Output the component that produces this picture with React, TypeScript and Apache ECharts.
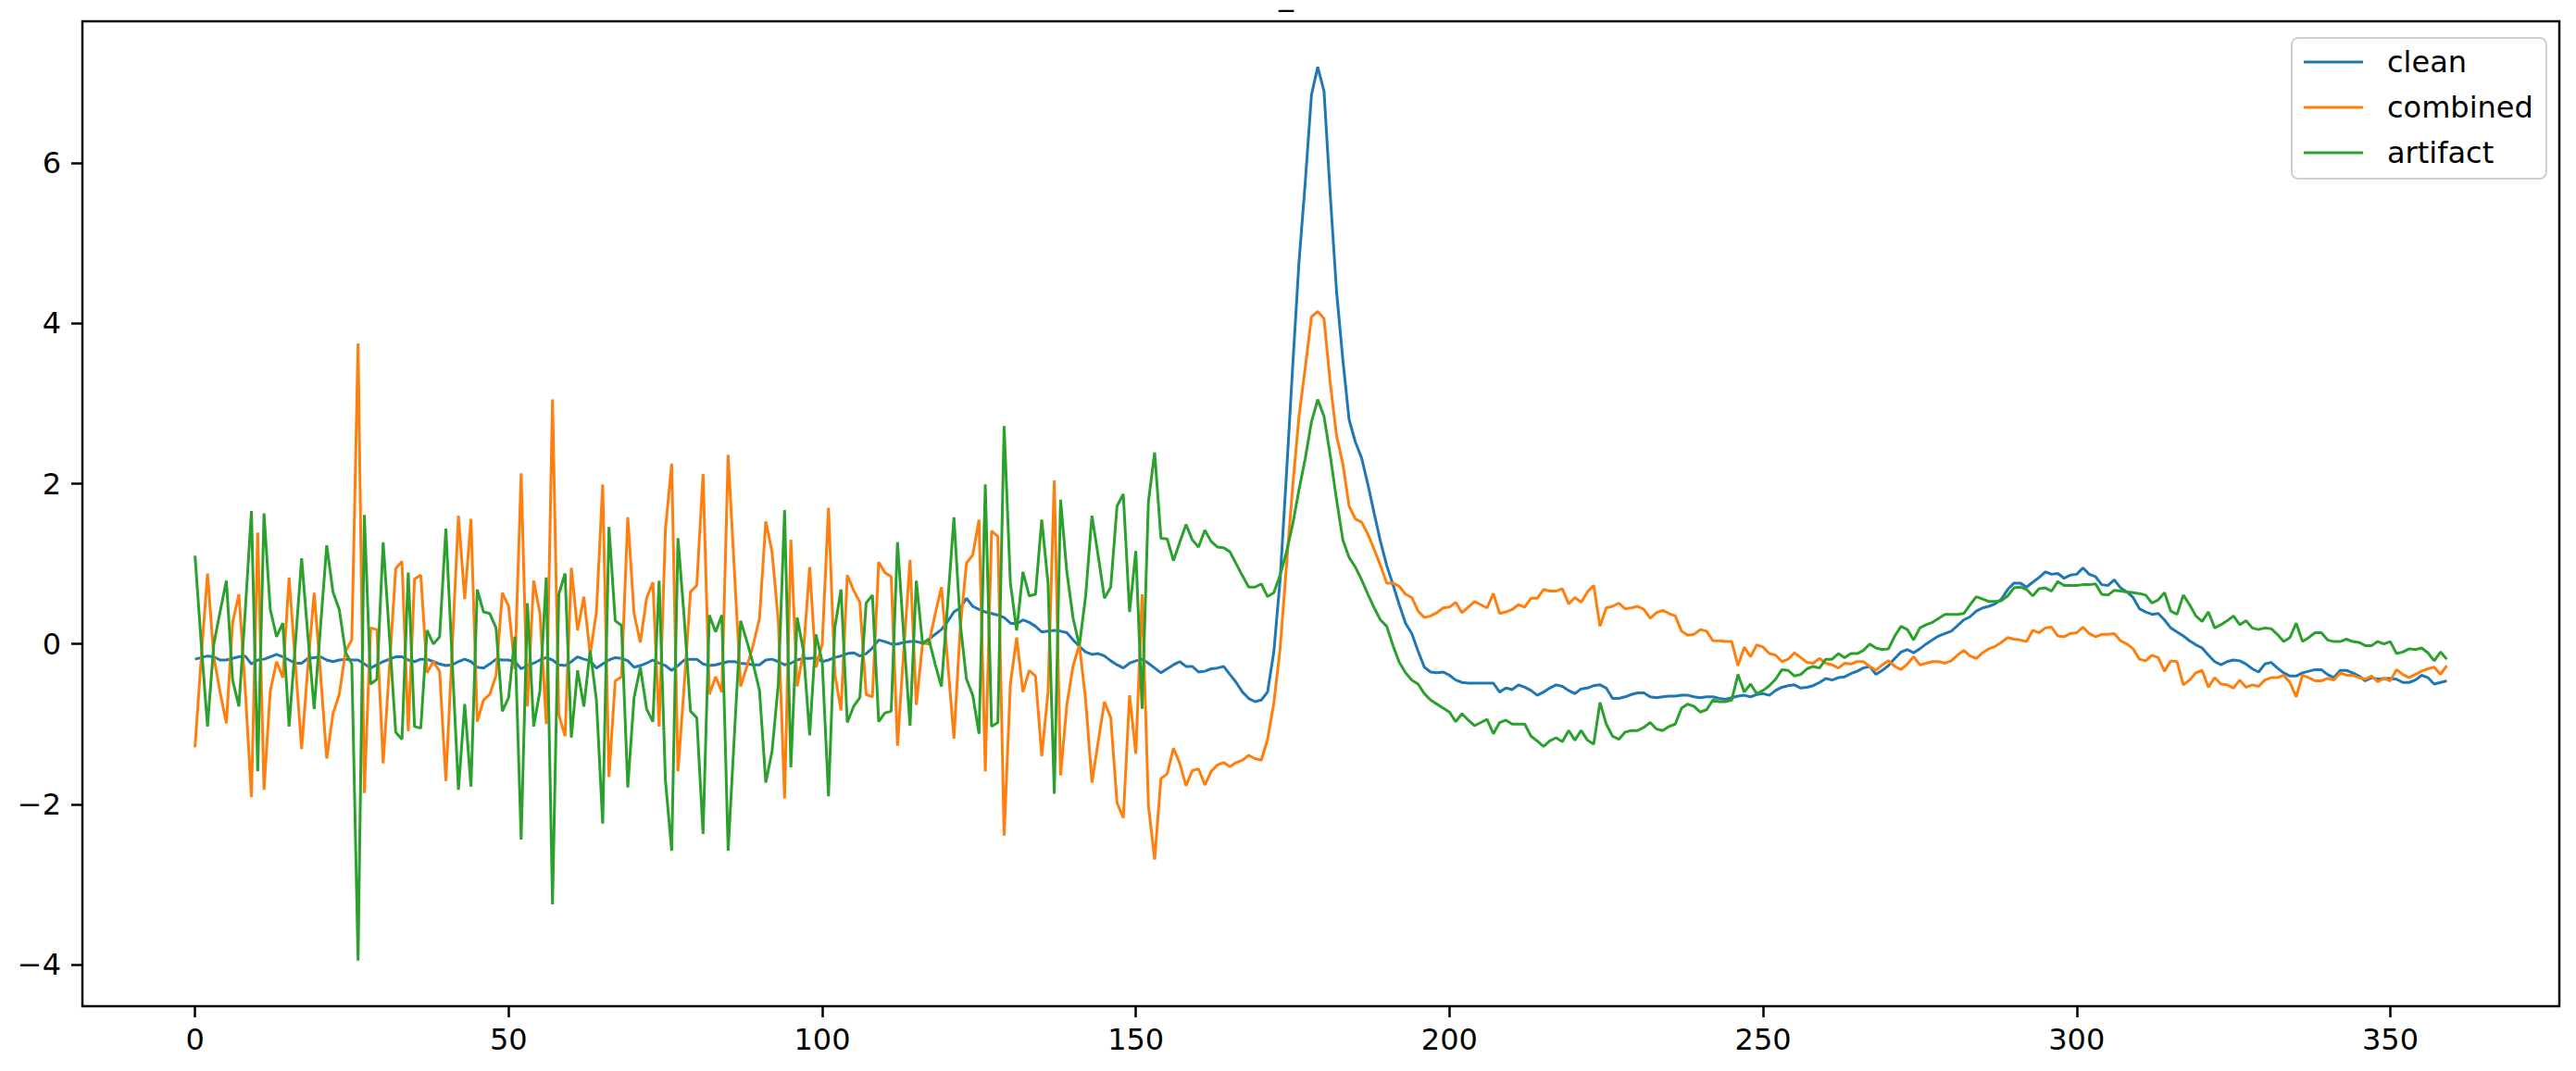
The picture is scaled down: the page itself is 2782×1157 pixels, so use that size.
import React, { useEffect, useRef } from "react";
import * as echarts from "echarts";

const seriesNames = ["clean", "combined", "artifact"];
const seriesColors = ["#1f77b4", "#ff7f0e", "#2ca02c"];
const xTicks = [0, 50, 100, 150, 200, 250, 300, 350];
const yTicks = [-4, -2, 0, 2, 4, 6];
const titleText = "_";

const clean = [
  -0.19, -0.17, -0.15, -0.16, -0.2, -0.2, -0.18, -0.16, -0.15, -0.25,
  -0.2, -0.19, -0.16, -0.13, -0.16, -0.2, -0.24, -0.24, -0.18, -0.17,
  -0.16, -0.2, -0.22, -0.2, -0.19, -0.2, -0.2, -0.25, -0.3, -0.26,
  -0.22, -0.19, -0.16, -0.16, -0.2, -0.22, -0.19, -0.19, -0.22, -0.25,
  -0.27, -0.26, -0.22, -0.19, -0.22, -0.29, -0.3, -0.25, -0.19, -0.2,
  -0.2, -0.22, -0.31, -0.27, -0.24, -0.2, -0.17, -0.2, -0.26, -0.27,
  -0.22, -0.16, -0.19, -0.21, -0.3, -0.25, -0.2, -0.17, -0.18, -0.21,
  -0.29, -0.27, -0.24, -0.2, -0.24, -0.27, -0.33, -0.27, -0.2, -0.19,
  -0.19, -0.25, -0.27, -0.26, -0.24, -0.22, -0.22, -0.24, -0.25, -0.26,
  -0.26, -0.2, -0.19, -0.22, -0.26, -0.24, -0.2, -0.18, -0.18, -0.17,
  -0.22, -0.2, -0.17, -0.15, -0.12, -0.11, -0.15, -0.12, -0.05, 0.05,
  0.03, 0.0, 0.0, 0.02, 0.03, 0.03, 0.01, 0.06, 0.12, 0.18,
  0.28, 0.4, 0.45, 0.57, 0.47, 0.43, 0.4, 0.38, 0.36, 0.33,
  0.26, 0.25, 0.3, 0.27, 0.22, 0.15, 0.16, 0.17, 0.16, 0.14,
  0.05, -0.03, -0.1, -0.13, -0.12, -0.15, -0.21, -0.26, -0.3, -0.24,
  -0.21, -0.19, -0.24, -0.3, -0.36, -0.31, -0.26, -0.22, -0.28, -0.28,
  -0.35, -0.34, -0.31, -0.3, -0.28, -0.38, -0.48, -0.6, -0.68, -0.72,
  -0.7, -0.6, -0.1, 0.8, 2.1, 3.45, 4.75, 5.75, 6.85, 7.2,
  6.9, 5.6, 4.4, 3.55, 2.8, 2.52, 2.32, 1.99, 1.63, 1.28,
  0.98, 0.74, 0.49, 0.26, 0.13, -0.09, -0.29, -0.35, -0.36, -0.35,
  -0.39, -0.45, -0.48, -0.49, -0.49, -0.49, -0.49, -0.49, -0.6, -0.55,
  -0.57, -0.51, -0.54, -0.58, -0.64, -0.6, -0.55, -0.51, -0.53, -0.58,
  -0.62, -0.56, -0.55, -0.52, -0.51, -0.55, -0.68, -0.68, -0.66, -0.63,
  -0.61, -0.61, -0.66, -0.67, -0.66, -0.65, -0.65, -0.64, -0.64, -0.66,
  -0.67, -0.66, -0.66, -0.68, -0.69, -0.67, -0.65, -0.64, -0.66, -0.63,
  -0.62, -0.64, -0.58, -0.54, -0.52, -0.51, -0.55, -0.54, -0.52, -0.48,
  -0.43, -0.45, -0.42, -0.41, -0.37, -0.34, -0.3, -0.28, -0.38, -0.33,
  -0.27, -0.18, -0.1, -0.07, -0.11, -0.06, 0.0, 0.05, 0.1, 0.13,
  0.16, 0.23, 0.3, 0.34, 0.41, 0.45, 0.47, 0.5, 0.56, 0.68,
  0.76, 0.76, 0.71, 0.77, 0.83, 0.9, 0.87, 0.88, 0.82, 0.86,
  0.87, 0.95, 0.87, 0.84, 0.74, 0.73, 0.8, 0.7, 0.65, 0.58,
  0.44, 0.4, 0.37, 0.38, 0.3, 0.2, 0.15, 0.1, 0.04, -0.01,
  -0.05, -0.14, -0.22, -0.26, -0.22, -0.2, -0.21, -0.25, -0.31, -0.35,
  -0.25, -0.23, -0.3, -0.36, -0.4, -0.4, -0.36, -0.34, -0.32, -0.32,
  -0.38, -0.42, -0.33, -0.33, -0.36, -0.4, -0.46, -0.42, -0.44, -0.43,
  -0.43, -0.44, -0.48, -0.48, -0.45, -0.39, -0.42, -0.5, -0.48, -0.46,
];

const combined = [
  -1.29, -0.17, 0.88, -0.16, -0.6, -0.99, 0.27, 0.62, -0.55, -1.91,
  1.39, -1.82, -0.59, -0.22, -0.42, 0.83, -0.24, -1.31, -0.28, 0.64,
  -0.36, -1.43, -0.87, -0.63, -0.09, 0.05, 3.75, -1.86, 0.2, 0.18,
  -1.49, -0.29, 0.94, 1.03, -1.09, 0.81, 0.86, -0.36, -0.22, -0.34,
  -1.71, -0.06, 1.6, 0.56, 1.56, -0.97, -0.7, -0.63, -0.39, 0.64,
  0.47, -0.31, 2.13, -0.78, 0.79, 0.38, -1.0, 3.05, -0.88, -1.15,
  0.95, 0.17, 0.59, -0.13, 0.4, 1.99, -1.66, -0.46, -0.41, 1.58,
  0.38, 0.02, 0.57, 0.77, -1.03, 1.43, 2.25, -1.59, -0.52, 0.65,
  0.73, 2.12, -0.63, -0.41, -0.6, 2.36, 0.91, -0.53, -0.28, -0.01,
  0.32, 1.53, 1.15, 0.28, -1.93, 1.3, -0.53, -0.1, 0.96, -0.29,
  0.0, 1.7, -0.37, -0.83, 0.86, 0.67, 0.52, -0.63, -0.66, 1.02,
  0.89, 0.84, -1.27, -0.08, 1.05, -0.76, 0.01, 0.0, 0.37, 0.71,
  -0.22, -1.18, 0.19, 1.01, 1.11, 1.55, -1.59, 1.41, 1.34, -2.39,
  -0.5, 0.08, -0.6, -0.33, -0.4, -1.4, -0.6, 2.04, -1.64, -0.76,
  -0.27, -0.01, -0.7, -1.73, -1.22, -0.72, -0.92, -1.98, -2.17, -0.64,
  -1.37, 0.62, -2.01, -2.69, -1.68, -1.62, -1.3, -1.49, -1.77, -1.58,
  -1.56, -1.76, -1.59, -1.51, -1.48, -1.53, -1.48, -1.45, -1.39, -1.43,
  -1.45, -1.19, -0.74, -0.06, 0.96, 1.96, 2.83, 3.44, 4.08, 4.15,
  4.06, 3.25, 2.6, 2.25, 1.72, 1.56, 1.52, 1.37, 1.18, 0.98,
  0.76, 0.76, 0.72, 0.62, 0.58, 0.41, 0.33, 0.35, 0.39, 0.45,
  0.46, 0.52, 0.39, 0.46, 0.53, 0.49, 0.45, 0.63, 0.38, 0.4,
  0.43, 0.49, 0.46, 0.57, 0.57, 0.68, 0.66, 0.66, 0.69, 0.5,
  0.58, 0.52, 0.65, 0.73, 0.22, 0.45, 0.47, 0.51, 0.44, 0.45,
  0.47, 0.43, 0.32, 0.39, 0.42, 0.38, 0.35, 0.16, 0.11, 0.12,
  0.18, 0.16, 0.04, 0.04, 0.03, 0.03, -0.27, -0.04, -0.16, -0.01,
  -0.04, -0.12, -0.14, -0.22, -0.19, -0.11, -0.17, -0.23, -0.24, -0.18,
  -0.24, -0.26, -0.3, -0.24, -0.25, -0.22, -0.22, -0.28, -0.33, -0.26,
  -0.21, -0.28, -0.32, -0.25, -0.16, -0.26, -0.24, -0.22, -0.22, -0.24,
  -0.21, -0.14, -0.08, -0.15, -0.18, -0.11, -0.06, -0.03, 0.02, 0.08,
  0.06, 0.05, 0.03, 0.17, 0.14, 0.2, 0.21, 0.1, 0.09, 0.13,
  0.14, 0.21, 0.13, 0.09, 0.12, 0.12, 0.13, 0.04, 0.0, -0.06,
  -0.19, -0.21, -0.14, -0.17, -0.34, -0.21, -0.22, -0.51, -0.45, -0.36,
  -0.33, -0.54, -0.42, -0.5, -0.51, -0.55, -0.45, -0.54, -0.51, -0.53,
  -0.45, -0.42, -0.42, -0.39, -0.48, -0.66, -0.39, -0.42, -0.46, -0.46,
  -0.43, -0.45, -0.36, -0.39, -0.39, -0.42, -0.44, -0.4, -0.47, -0.43,
  -0.46, -0.32, -0.38, -0.42, -0.38, -0.34, -0.31, -0.29, -0.38, -0.27,
];

const artifact = [
  1.1, 0.0, -1.03, 0.0, 0.4, 0.79, -0.45, -0.78, 0.4, 1.66,
  -1.59, 1.63, 0.43, 0.09, 0.26, -1.03, 0.0, 1.07, 0.1, -0.81,
  0.2, 1.23, 0.65, 0.43, -0.1, -0.25, -3.95, 1.61, -0.5, -0.44,
  1.27, 0.1, -1.1, -1.19, 0.89, -1.03, -1.05, 0.17, 0.0, 0.09,
  1.44, -0.2, -1.82, -0.75, -1.78, 0.68, 0.4, 0.38, 0.2, -0.84,
  -0.67, 0.09, -2.44, 0.51, -1.03, -0.58, 0.83, -3.25, 0.62, 0.88,
  -1.17, -0.33, -0.78, -0.08, -0.7, -2.24, 1.46, 0.29, 0.23, -1.79,
  -0.67, -0.29, -0.81, -0.97, 0.79, -1.7, -2.58, 1.32, 0.32, -0.84,
  -0.92, -2.37, 0.36, 0.15, 0.36, -2.58, -1.13, 0.29, 0.03, -0.25,
  -0.58, -1.73, -1.34, -0.5, 1.67, -1.54, 0.33, -0.08, -1.14, 0.12,
  -0.22, -1.9, 0.2, 0.68, -0.98, -0.78, -0.67, 0.51, 0.61, -0.97,
  -0.86, -0.84, 1.27, 0.1, -1.02, 0.79, 0.0, 0.06, -0.25, -0.53,
  0.5, 1.58, 0.26, -0.44, -0.64, -1.12, 1.99, -1.03, -0.98, 2.72,
  0.76, 0.17, 0.9, 0.6, 0.62, 1.55, 0.76, -1.87, 1.8, 0.9,
  0.32, -0.02, 0.6, 1.6, 1.1, 0.57, 0.71, 1.72, 1.87, 0.4,
  1.16, -0.81, 1.77, 2.39, 1.32, 1.31, 1.04, 1.27, 1.49, 1.3,
  1.21, 1.42, 1.28, 1.21, 1.2, 1.15, 1.0, 0.85, 0.71, 0.71,
  0.75, 0.59, 0.64, 0.86, 1.14, 1.49, 1.92, 2.31, 2.77, 3.05,
  2.84, 2.35, 1.8, 1.3, 1.08, 0.96, 0.8, 0.62, 0.45, 0.3,
  0.22, -0.02, -0.23, -0.36, -0.45, -0.5, -0.62, -0.7, -0.75, -0.8,
  -0.85, -0.97, -0.87, -0.95, -1.02, -0.98, -0.94, -1.12, -0.98, -0.95,
  -1.0, -1.0, -1.0, -1.15, -1.21, -1.28, -1.21, -1.17, -1.22, -1.08,
  -1.2, -1.08, -1.2, -1.25, -0.73, -1.0, -1.15, -1.19, -1.1, -1.08,
  -1.08, -1.04, -0.98, -1.06, -1.08, -1.03, -1.0, -0.8, -0.75, -0.78,
  -0.85, -0.82, -0.7, -0.72, -0.72, -0.7, -0.38, -0.6, -0.5, -0.62,
  -0.58, -0.52, -0.44, -0.32, -0.33, -0.4, -0.38, -0.31, -0.28, -0.3,
  -0.19, -0.19, -0.12, -0.17, -0.12, -0.12, -0.08, 0.0, -0.05, -0.07,
  -0.06, 0.1, 0.22, 0.18, 0.05, 0.2, 0.24, 0.27, 0.32, 0.37,
  0.37, 0.37, 0.38, 0.49, 0.59, 0.56, 0.53, 0.53, 0.54, 0.6,
  0.7, 0.71, 0.68, 0.6, 0.69, 0.7, 0.66, 0.78, 0.73, 0.73,
  0.73, 0.74, 0.74, 0.75, 0.62, 0.61, 0.67, 0.66, 0.65, 0.64,
  0.63, 0.61, 0.51, 0.55, 0.64, 0.41, 0.37, 0.61, 0.49, 0.35,
  0.28, 0.4, 0.2, 0.24, 0.29, 0.35, 0.24, 0.29, 0.2, 0.18,
  0.2, 0.19, 0.12, 0.03, 0.08, 0.26, 0.03, 0.08, 0.14, 0.14,
  0.05, 0.03, 0.03, 0.06, 0.03, 0.02, -0.02, -0.02, 0.03, 0.0,
  0.03, -0.12, -0.1, -0.06, -0.07, -0.05, -0.11, -0.21, -0.1, -0.19,
];

const FONT = "DejaVu Sans";

export default function App() {
  const ref = useRef<HTMLDivElement>(null);

  useEffect(() => {
    if (!ref.current) return;
    const chart = echarts.init(ref.current, null, { renderer: "svg" });
    const toPairs = (arr: number[]) => arr.map((v, i) => [i, v]);
    const seriesData = [clean, combined, artifact];
    const fmt = (v: number) => (v < 0 ? "\u2212" + Math.abs(v) : String(v));

    chart.setOption({
      animation: false,
      backgroundColor: "#ffffff",
      grid: {
        left: 89,
        top: 23,
        right: 18,
        bottom: 70,
        show: true,
        borderColor: "#000000",
        borderWidth: 2.5,
        backgroundColor: "transparent",
      },
      xAxis: {
        type: "value",
        min: -17.95,
        max: 376.95,
        axisLine: { show: false, onZero: false },
        splitLine: { show: false },
        axisTick: {
          show: true,
          customValues: xTicks,
          length: 12,
          lineStyle: { color: "#000000", width: 2.5 },
        },
        axisLabel: {
          customValues: xTicks,
          fontSize: 32,
          fontFamily: FONT,
          color: "#000000",
          margin: 20,
          formatter: fmt,
        },
      },
      yAxis: {
        type: "value",
        min: -4.52,
        max: 7.77,
        axisLine: { show: false, onZero: false },
        splitLine: { show: false },
        axisTick: {
          show: true,
          customValues: yTicks,
          length: 12,
          lineStyle: { color: "#000000", width: 2.5 },
        },
        axisLabel: {
          customValues: yTicks,
          fontSize: 32,
          fontFamily: FONT,
          color: "#000000",
          margin: 23,
          formatter: fmt,
        },
      },
      legend: {
        orient: "vertical",
        left: 2475,
        top: 41,
        icon: "rect",
        itemWidth: 64,
        itemHeight: 3,
        itemGap: 17,
        padding: [10, 14, 12, 13],
        borderColor: "#d0d0d0",
        borderWidth: 2,
        borderRadius: 7,
        backgroundColor: "rgba(255,255,255,0.8)",
        selectedMode: false,
        textStyle: {
          fontSize: 32,
          fontFamily: FONT,
          color: "#000000",
          lineHeight: 32,
          padding: [0, 0, 0, 21],
        },
        data: seriesNames,
      },
      graphic: [
        {
          type: "text",
          x: 1389,
          y: -6,
          style: {
            text: titleText,
            fontSize: 32,
            fontFamily: FONT,
            fill: "#000000",
            align: "center",
            textAlign: "center",
            verticalAlign: "middle",
            textVerticalAlign: "middle",
          },
        },
      ],
      series: seriesNames.map((name, k) => ({
        name,
        type: "line",
        data: toPairs(seriesData[k]),
        showSymbol: false,
        symbol: "none",
        lineStyle: { width: 3, color: seriesColors[k] },
        itemStyle: { color: seriesColors[k] },
        emphasis: { disabled: true },
        z: 2 + k,
      })),
    });

    return () => chart.dispose();
  }, []);

  return (
    <div
      ref={ref}
      style={{ position: "absolute", left: 0, top: 0, width: 2782, height: 1157 }}
    />
  );
}
